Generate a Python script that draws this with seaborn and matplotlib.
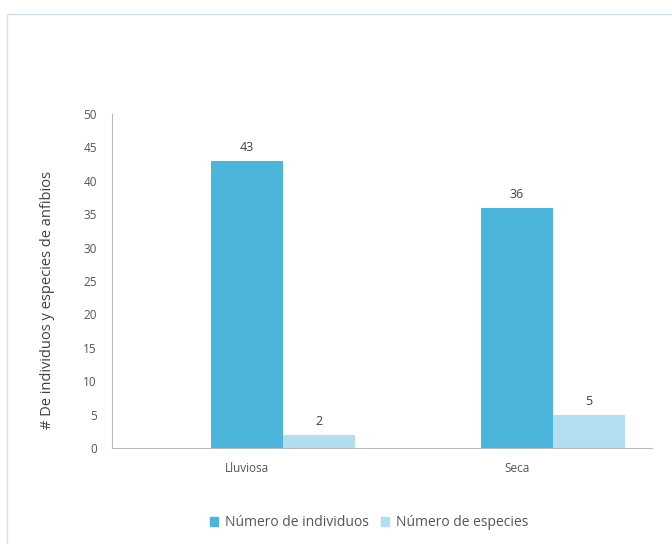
import matplotlib
matplotlib.use("Agg")
import matplotlib.pyplot as plt
import matplotlib.patches as mpatches
import seaborn as sns
import pandas as pd
import numpy as np

# Data
temporadas = ["Lluviosa", "Seca"]
individuos = [43, 36]
especies = [2, 5]
series_names = ["Número de individuos", "Número de especies"]
y_ticks = [0, 5, 10, 15, 20, 25, 30, 35, 40, 45, 50]

col_ind = "#4bb5dc"
col_esp = "#b2def1"
text_col = "#555555"

sns.set_theme(style="white")
plt.rcParams["font.family"] = ["Open Sans", "DejaVu Sans"]

# Long-form table; an empty leading series keeps the column layout of the workbook chart
rows = []
for t, a, b in zip(temporadas, individuos, especies):
    rows.append({"Temporada": t, "Serie": "_vacía", "Valor": np.nan})
    rows.append({"Temporada": t, "Serie": series_names[0], "Valor": a})
    rows.append({"Temporada": t, "Serie": series_names[1], "Valor": b})
df = pd.DataFrame(rows)

fig = plt.figure(figsize=(6.72, 5.44), dpi=100)
ax = fig.add_axes([112 / 672, 1 - 448 / 544, 540 / 672, 334 / 544])

sns.barplot(
    data=df, x="Temporada", y="Valor", hue="Serie",
    hue_order=["_vacía"] + series_names,
    palette={"_vacía": "white", series_names[0]: col_ind, series_names[1]: col_esp},
    order=temporadas, width=0.8, saturation=1, gap=0, ax=ax, legend=False,
    linewidth=0,
)

# Value labels above each bar
for cont in ax.containers:
    vals = cont.datavalues
    if np.all(np.isnan(vals)):
        continue
    ax.bar_label(cont, labels=[f"{v:.0f}" for v in vals], padding=5,
                 fontsize=9, color="#404040")

ax.set_ylim(0, 50)
ax.set_xlim(-0.5, 1.5)
ax.set_yticks(y_ticks)
ax.set_yticklabels([str(v) for v in y_ticks])
ax.set_xlabel("")
ax.set_ylabel("# De individuos y especies de anfibios", fontsize=10.5,
              color="#404040")
ax.yaxis.set_label_coords(-0.106, 0.443)
ax.tick_params(axis="both", length=0, labelsize=8.5, colors=text_col)
ax.tick_params(axis="y", pad=11)
ax.tick_params(axis="x", pad=10)

for s in ["top", "right"]:
    ax.spines[s].set_visible(False)
for s in ["left", "bottom"]:
    ax.spines[s].set_color("#b8b8c8")
    ax.spines[s].set_linewidth(0.8)
    ax.spines[s].set_linestyle((0, (1, 1)))

# Legend below the plot
handles = [mpatches.Patch(color=col_ind, label=series_names[0]),
           mpatches.Patch(color=col_esp, label=series_names[1])]
fig.legend(handles=handles, loc="center", bbox_to_anchor=(369 / 672, 1 - 523 / 544),
           ncol=2, frameon=False, fontsize=10, handlelength=0.6, handleheight=0.6,
           handletextpad=0.45, columnspacing=0.9, labelcolor=text_col)

# Light frame around the chart area
frame = mpatches.Rectangle((7 / 672, -0.05), 1.0, 1 - 14 / 544 + 0.05,
                           transform=fig.transFigure, fill=False,
                           edgecolor="#cfe3ef", linewidth=1.0)
fig.patches.append(frame)

fig.savefig("out.png", dpi=100, facecolor="white")
